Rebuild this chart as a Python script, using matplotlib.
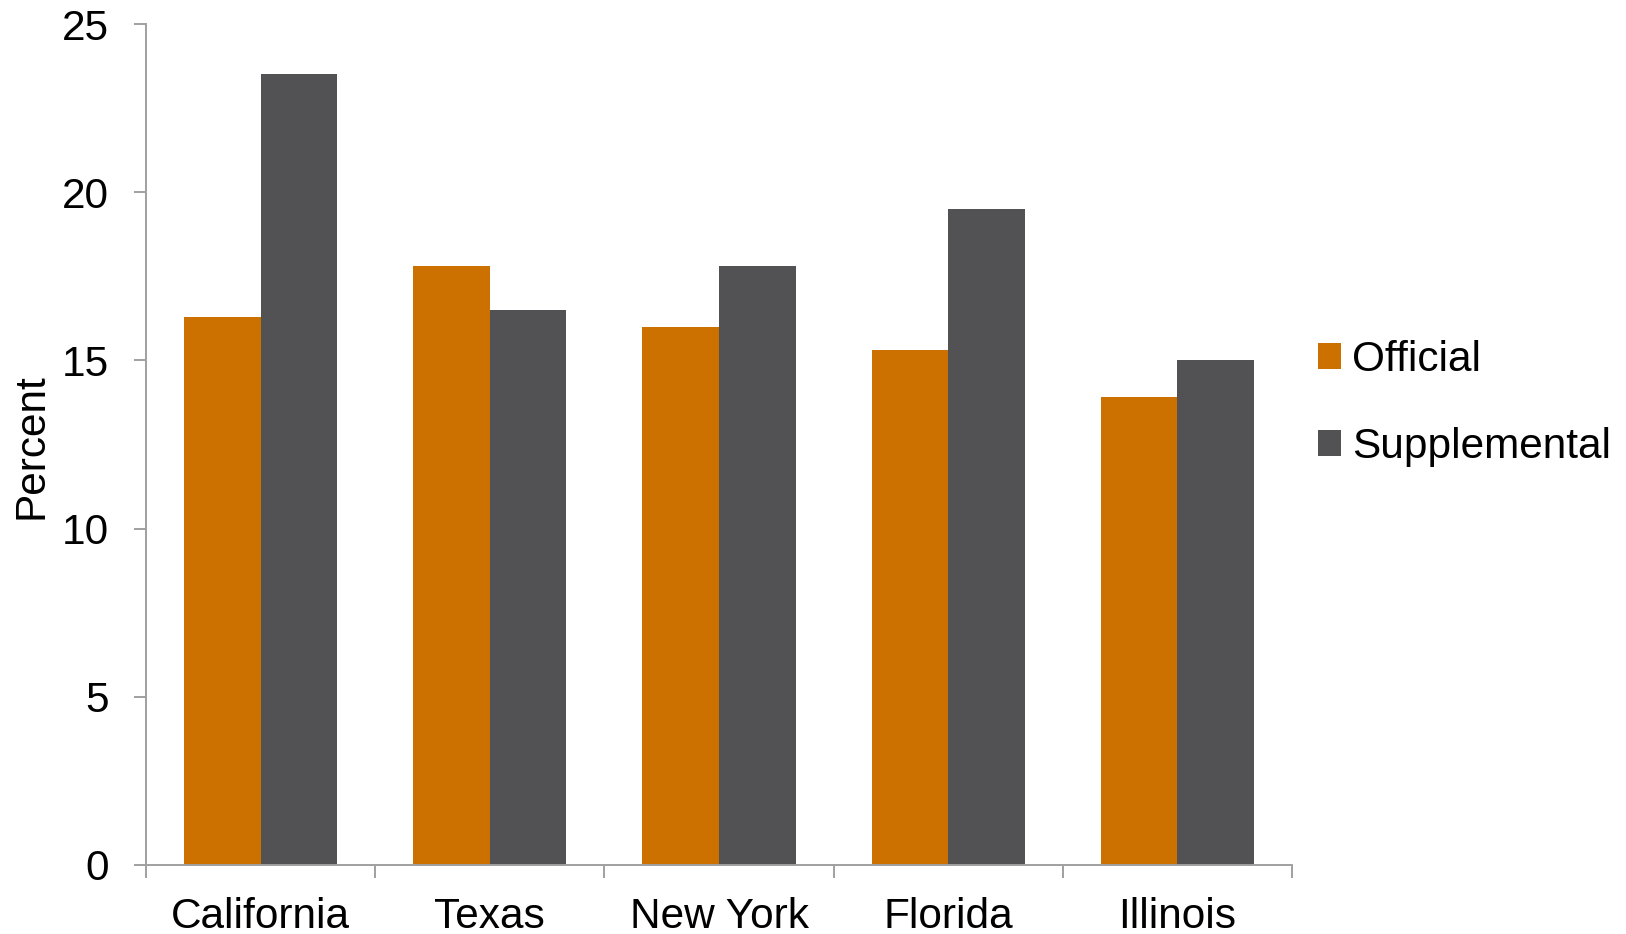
import matplotlib
matplotlib.use("Agg")
import matplotlib.pyplot as plt
import numpy as np

states = ["California", "Texas", "New York", "Florida", "Illinois"]
official = [16.3, 17.8, 16.0, 15.3, 13.9]
supplemental = [23.5, 16.5, 17.8, 19.5, 15.0]
yticks = [0, 5, 10, 15, 20, 25]

plt.rcParams['font.family'] = ['Liberation Sans', 'DejaVu Sans']

ORANGE = '#CC7000'
GREY = '#525254'
SPINE = '#A0A0A0'
FS = 30.5

fig = plt.figure(figsize=(16.26, 9.34), dpi=100)
ax = fig.add_axes([0.0898, 0.0739, 0.7048, 0.9004])

x = np.arange(len(states))
w = 0.334
ax.bar(x - w / 2, official, w, color=ORANGE, label="Official")
ax.bar(x + w / 2, supplemental, w, color=GREY, label="Supplemental")

ax.set_xlim(-0.5, len(states) - 0.5)
ax.set_ylim(0, 25)
ax.set_yticks(yticks)
ax.set_xticks(x)
ax.set_xticklabels(states)
ax.set_xticks(np.arange(len(states) + 1) - 0.5, minor=True)

for s in ['top', 'right']:
    ax.spines[s].set_visible(False)
for s in ['left', 'bottom']:
    ax.spines[s].set_color(SPINE)
    ax.spines[s].set_linewidth(1.4)

ax.tick_params(axis='y', length=9, width=1.4, color=SPINE, pad=18, labelsize=FS)
ax.tick_params(axis='x', which='major', length=0, pad=23, labelsize=FS)
ax.tick_params(axis='x', which='minor', length=9, width=1.4, color=SPINE)

fig.text(31 / 1626, 0.5225, "Percent", rotation=90, ha='center', va='center', fontsize=FS)

fig.legend(loc='center left', bbox_to_anchor=(1318 / 1626, 0.568),
           bbox_transform=fig.transFigure, frameon=False, fontsize=FS,
           handlelength=0.55, handleheight=0.55, handletextpad=0.25,
           labelspacing=1.12, borderpad=0, borderaxespad=0)

fig.savefig("out.png", dpi=100)
